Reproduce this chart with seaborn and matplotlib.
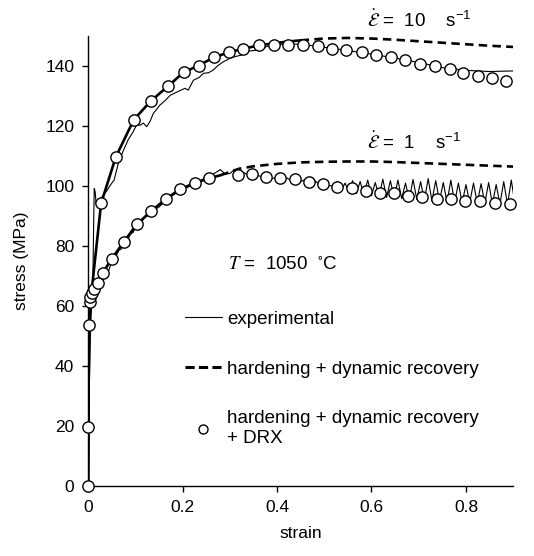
import numpy as np
import pandas as pd
import matplotlib
matplotlib.use("Agg")
import matplotlib.pyplot as plt
import seaborn as sns
from matplotlib.lines import Line2D

sns.set_theme(style="ticks")
plt.rcParams["font.family"] = ["Liberation Sans", "DejaVu Sans"]
plt.rcParams["mathtext.fontset"] = "stix"
plt.rcParams["text.color"] = "black"
plt.rcParams["axes.labelcolor"] = "black"
plt.rcParams["xtick.color"] = "black"
plt.rcParams["ytick.color"] = "black"

# ---------------- data ----------------
# strain rate 10 s^-1 : hardening + dynamic recovery model
m10_solid_x = [0, 0.001, 0.002, 0.004, 0.0275, 0.0586, 0.0966, 0.133, 0.169, 0.202,
               0.234, 0.266, 0.298, 0.329, 0.361, 0.393, 0.423, 0.45]
m10_solid_y = [0, 30, 50, 60, 94.2, 109.7, 122.1, 128.4, 133.3, 137.9,
               140.2, 142.9, 144.6, 145.8, 146.9, 147.6, 148.2, 148.6]
m10_dash_x = [0.45, 0.5, 0.55, 0.6, 0.65, 0.7, 0.75, 0.8, 0.85, 0.9]
m10_dash_y = [148.6, 149.2, 149.4, 149.2, 148.8, 148.3, 147.8, 147.3, 146.8, 146.4]

# strain rate 10 s^-1 : + DRX (circles)
drx10_x = [0.0275, 0.0586, 0.0966, 0.133, 0.169, 0.202, 0.234, 0.266, 0.298, 0.329,
           0.361, 0.393, 0.423, 0.454, 0.486, 0.516, 0.547, 0.579, 0.609, 0.641,
           0.672, 0.703, 0.734, 0.766, 0.794, 0.825, 0.856, 0.885]
drx10_y = [94.2, 109.7, 122.1, 128.4, 133.3, 137.9, 140.2, 142.9, 144.6, 145.8,
           146.9, 147.2, 147.0, 147.2, 146.6, 145.8, 145.3, 144.6, 143.7, 142.9,
           141.9, 140.8, 139.9, 139.1, 137.7, 136.8, 136.0, 135.1]

# strain rate 10 s^-1 : experimental
exp10_x = [0, 0.002, 0.005, 0.008, 0.010, 0.012, 0.013, 0.015, 0.017, 0.022, 0.030,
           0.040, 0.047, 0.055, 0.064, 0.075, 0.085, 0.095, 0.103, 0.110, 0.117,
           0.124, 0.131, 0.138, 0.152, 0.163, 0.174, 0.190, 0.205, 0.212, 0.223,
           0.235, 0.244, 0.255, 0.265, 0.275, 0.286, 0.300, 0.312, 0.325, 0.340,
           0.355, 0.370, 0.385, 0.400, 0.420, 0.450, 0.500, 0.550, 0.600, 0.650,
           0.700, 0.750, 0.800, 0.850, 0.900]
exp10_y = [0, 30, 52, 62, 68, 90, 99.2, 98, 94, 95, 96.5,
           98.5, 100.3, 102, 107.6, 112, 115.5, 118, 120.5, 120.3, 121,
           119.8, 121.5, 124.2, 127, 128.5, 130.3, 131.5, 132.6, 132, 135.3,
           136.2, 137.6, 137.8, 138.7, 140.2, 141.4, 142.6, 143.2, 143.7, 145,
           145.3, 146.2, 146.8, 147.2, 147.4, 147.3, 146.3, 145.2, 144, 142.7,
           141.2, 139.5, 138.6, 138.2, 138.4]

# strain rate 1 s^-1 : hardening + dynamic recovery model
m1_solid_x = [0, 0.001, 0.002, 0.003, 0.005, 0.008, 0.013, 0.020, 0.031, 0.050,
              0.075, 0.103, 0.133, 0.164, 0.195, 0.226, 0.256, 0.28]
m1_solid_y = [0, 30, 53.7, 61.4, 63.1, 64.2, 65.7, 67.6, 71.1, 75.7,
              81.3, 87.2, 91.6, 95.6, 99.0, 101.0, 102.6, 103.6]
m1_dash_x = [0.28, 0.32, 0.35, 0.4, 0.45, 0.5, 0.55, 0.6, 0.65, 0.7,
             0.75, 0.8, 0.85, 0.9]
m1_dash_y = [103.6, 105.8, 106.6, 107.4, 107.9, 108.1, 108.2, 108.2, 108.0, 107.7,
             107.4, 107.1, 106.8, 106.5]

# strain rate 1 s^-1 : + DRX (circles)
drx1_x = [0, 0, 0.002, 0.003, 0.004, 0.008, 0.013, 0.020, 0.031, 0.050,
          0.075, 0.103, 0.133, 0.164, 0.195, 0.226, 0.256, 0.317, 0.346, 0.377,
          0.406, 0.438, 0.468, 0.498, 0.528, 0.558, 0.588, 0.618, 0.648, 0.678,
          0.708, 0.738, 0.768, 0.799, 0.830, 0.861, 0.893]
drx1_y = [0, 19.5, 53.7, 61.4, 63.1, 64.2, 65.7, 67.6, 71.1, 75.7,
          81.3, 87.2, 91.6, 95.6, 99.0, 101.0, 102.6, 103.7, 103.9, 103.1,
          102.6, 102.2, 101.4, 100.6, 99.7, 99.2, 98.3, 97.8, 97.6, 96.8,
          96.2, 95.6, 95.6, 95.1, 95.1, 94.4, 94.1]

# strain rate 1 s^-1 : experimental (serrated flow at large strain)
exp1_x = [0, 0.002, 0.004, 0.007, 0.010, 0.013, 0.016, 0.020, 0.024, 0.028,
          0.030, 0.034, 0.038, 0.042, 0.046, 0.050, 0.055, 0.060, 0.065, 0.070,
          0.075, 0.080, 0.085, 0.090, 0.095, 0.100, 0.110, 0.120, 0.130, 0.140,
          0.150, 0.160, 0.170, 0.180, 0.190, 0.200, 0.210, 0.220, 0.230, 0.240,
          0.250, 0.260, 0.270, 0.280, 0.290, 0.300, 0.310, 0.320, 0.330, 0.340,
          0.350, 0.360, 0.370, 0.380, 0.390, 0.400, 0.410, 0.420, 0.430, 0.440,
          0.450, 0.460, 0.470, 0.480, 0.490, 0.500, 0.510,
          0.520, 0.528, 0.536, 0.544, 0.552, 0.560, 0.568, 0.576, 0.584, 0.592,
          0.600, 0.608, 0.616, 0.624, 0.632, 0.640, 0.648, 0.656, 0.664, 0.672,
          0.680, 0.688, 0.696, 0.704, 0.712, 0.720, 0.728, 0.736, 0.744, 0.752,
          0.760, 0.768, 0.776, 0.784, 0.792, 0.800, 0.808, 0.816, 0.824, 0.832,
          0.840, 0.848, 0.856, 0.864, 0.872, 0.880, 0.888, 0.896, 0.904, 0.910]
exp1_y = [0, 45, 56, 60, 62, 63.5, 64, 66, 67, 68.5,
          67.5, 70, 71.5, 71, 73, 74.5, 75, 77, 78.5, 79,
          80.5, 81.5, 82.5, 84, 84.5, 86, 87.5, 89.5, 90.5, 92,
          93, 94.5, 95.5, 97, 98, 99, 99.5, 100.5, 101.5, 102,
          103, 103.5, 104.5, 105.5, 104, 104.2, 105.5, 104, 104.5, 103.5,
          105, 103.5, 103, 103.8, 102.5, 103, 102, 102.8, 101.8, 102.5,
          101.5, 102.2, 101, 101.8, 100.5, 101.5, 100.2,
          100.0, 101.5, 98.5, 101.0, 98.0, 101.8, 97.5, 101.5, 97.0, 102.0,
          96.8, 101.2, 96.5, 102.3, 96.2, 101.8, 96.0, 102.0, 95.8, 101.0,
          95.5, 102.2, 95.5, 101.5, 95.2, 102.5, 95.0, 101.8, 95.0, 101.2,
          94.6, 102.0, 94.5, 101.0, 94.3, 100.5, 94.5, 101.0, 94.2, 100.8,
          94.2, 101.2, 94.0, 100.5, 94.0, 101.5, 93.8, 102.0, 93.8, 102.5]

# ---------------- figure ----------------
fig = plt.figure(figsize=(5.34, 5.56), dpi=100)
ax = fig.add_axes([0.165, 0.126, 0.796, 0.809])

lw_model = 1.9
lw_exp = 0.8

for ex, ey in [(exp10_x, exp10_y), (exp1_x, exp1_y)]:
    sns.lineplot(x=ex, y=ey, ax=ax, color="black", lw=lw_exp,
                 sort=False, estimator=None)

for sx, sy in [(m10_solid_x, m10_solid_y), (m1_solid_x, m1_solid_y)]:
    sns.lineplot(x=sx, y=sy, ax=ax, color="black", lw=lw_model,
                 sort=False, estimator=None)

for dx, dy in [(m10_dash_x, m10_dash_y), (m1_dash_x, m1_dash_y)]:
    l = sns.lineplot(x=dx, y=dy, ax=ax, color="black", lw=lw_model,
                     sort=False, estimator=None)
    l.lines[-1].set_dashes((3.2, 2.0))

for cx, cy in [(drx10_x, drx10_y), (drx1_x, drx1_y)]:
    sns.scatterplot(x=cx, y=cy, ax=ax, s=66, facecolor="white",
                    edgecolor="black", linewidth=1.0, zorder=5, clip_on=False)

ax.set_xlim(0, 0.9)
ax.set_ylim(0, 150)
ax.set_xticks([0, 0.2, 0.4, 0.6, 0.8])
ax.set_xticklabels(["0", "0.2", "0.4", "0.6", "0.8"])
ax.set_yticks(np.arange(0, 141, 20))
ax.tick_params(direction="out", length=4, width=1, labelsize=12.5,
               colors="black", pad=6)
for sp in ["top", "right"]:
    ax.spines[sp].set_visible(False)
for sp in ["left", "bottom"]:
    ax.spines[sp].set_color("black")
    ax.spines[sp].set_linewidth(1.0)

ax.set_xlabel("strain", fontsize=12.5, labelpad=8)
ax.set_ylabel("stress (MPa)", fontsize=12.5, labelpad=12)

# annotations
ax.text(0.59, 155.3, r"$\dot{\mathcal{E}}$ =  10    s$^{\mathregular{-1}}$",
        fontsize=13.5, va="center", ha="left", clip_on=False)
ax.text(0.59, 114.7, r"$\dot{\mathcal{E}}$ =  1    s$^{\mathregular{-1}}$",
        fontsize=13.5, va="center", ha="left")
ax.text(0.296, 73.7, r"$T$ =  1050  $^{\circ}$C",
        fontsize=13.5, va="center", ha="left")

handles = [
    Line2D([], [], color="black", lw=lw_exp),
    Line2D([], [], color="black", lw=2.2, dashes=(3.0, 1.4)),
    Line2D([], [], color="black", lw=0, marker="o", markersize=6.5,
           markerfacecolor="white", markeredgecolor="black"),
]
labels = ["experimental", "hardening + dynamic recovery",
          "hardening + dynamic recovery\n+ DRX"]
ax.legend(handles, labels, loc="upper left", bbox_to_anchor=(0.228, 0.39),
          frameon=False, fontsize=13.5, handlelength=1.95, handletextpad=0.3,
          labelspacing=1.75, borderpad=0, borderaxespad=0)

fig.savefig("out.png", dpi=100)
